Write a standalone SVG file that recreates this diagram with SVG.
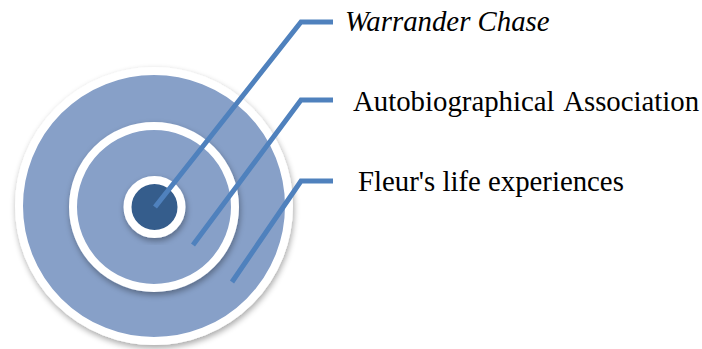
<svg xmlns="http://www.w3.org/2000/svg" width="702" height="349" viewBox="0 0 702 349">
<defs>
<style>
.ring{fill:#87a0c8;stroke:#ffffff;stroke-width:8}
.core{fill:#365d8c;stroke:#ffffff;stroke-width:8}
.conn{fill:none;stroke:#4f81bd;stroke-width:5;stroke-linejoin:miter}
.lbl{font-family:"Liberation Serif","Times New Roman",serif;font-size:28.8px;fill:#000000}
</style>
<filter id="sh" x="-20%" y="-20%" width="140%" height="140%">
<feGaussianBlur in="SourceAlpha" stdDeviation="3"/>
<feOffset dx="1" dy="3" result="b"/>
<feComponentTransfer><feFuncA type="linear" slope="0.35"/></feComponentTransfer>
<feMerge><feMergeNode/><feMergeNode in="SourceGraphic"/></feMerge>
</filter>
</defs>
<rect width="702" height="349" fill="#ffffff"/>
<g id="outer"><circle class="ring" cx="154" cy="206" r="135" filter="url(#sh)"/></g>
<g id="middle"><circle class="ring" cx="154" cy="207" r="81" filter="url(#sh)"/></g>
<g id="center"><circle class="core" cx="154.5" cy="207" r="27" filter="url(#sh)"/></g>
<g id="connectors">
<polyline class="conn" points="155,207 301,22 333,22"/>
<polyline class="conn" points="193,245 301,100 333,100"/>
<polyline class="conn" points="232,282 301,181 333,181"/>
</g>
<g id="label1"><text class="lbl" x="345" y="31" font-style="italic">Warrander Chase</text></g>
<g id="label2"><text class="lbl" x="353" y="111" word-spacing="3">Autobiographical Association</text></g>
<g id="label3"><text class="lbl" x="358" y="191">Fleur's life experiences</text></g>
</svg>
